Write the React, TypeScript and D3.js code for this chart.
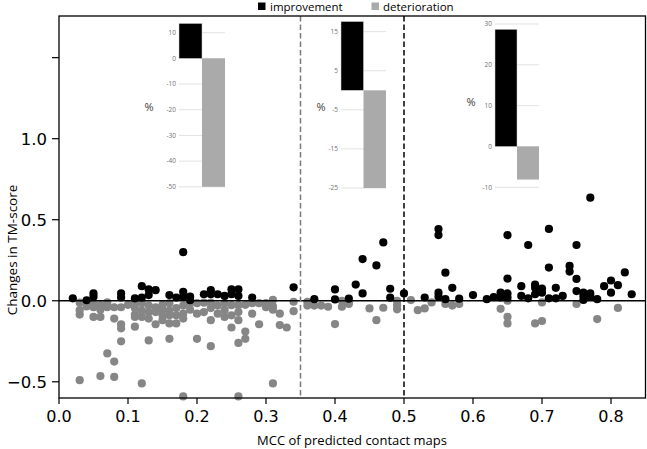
import React from "react";
import * as d3 from "d3";

// ---------- data ----------
const improvement: [number, number][] = [
  [0.02, 0.015], [0.04, 0.003], [0.05, 0.045], [0.05, 0.025], [0.09, 0.045], [0.09, 0.02],
  [0.11, 0.015], [0.12, 0.09], [0.12, 0.02], [0.13, 0.07], [0.13, 0.035], [0.14, 0.065],
  [0.16, 0.035], [0.17, 0.02], [0.18, 0.3], [0.18, 0.055], [0.18, 0.025], [0.19, 0.025],
  [0.19, 0.003], [0.21, 0.04], [0.22, 0.065], [0.22, 0.04], [0.23, 0.04], [0.24, 0.03],
  [0.25, 0.07], [0.25, 0.04], [0.26, 0.07], [0.26, 0.03], [0.28, 0.02], [0.34, 0.083],
  [0.37, 0.01], [0.4, 0.07], [0.4, 0.008], [0.42, 0.013], [0.43, 0.1], [0.44, 0.257],
  [0.44, 0.045], [0.46, 0.218], [0.47, 0.36], [0.48, 0.074], [0.48, 0.019], [0.5, 0.045],
  [0.53, 0.02], [0.55, 0.442], [0.55, 0.405], [0.55, 0.05], [0.55, 0.025], [0.56, 0.173],
  [0.56, 0.01], [0.57, 0.08], [0.58, 0.013], [0.6, 0.035], [0.62, 0.01], [0.63, 0.023],
  [0.64, 0.05], [0.64, 0.02], [0.65, 0.405], [0.65, 0.137], [0.65, 0.045], [0.65, 0.02],
  [0.67, 0.09], [0.67, 0.03], [0.68, 0.344], [0.68, 0.015], [0.69, 0.1], [0.69, 0.08],
  [0.69, 0.04], [0.7, 0.075], [0.7, 0.05], [0.71, 0.443], [0.71, 0.205], [0.71, 0.015],
  [0.72, 0.08], [0.72, 0.015], [0.73, 0.03], [0.74, 0.215], [0.74, 0.18], [0.75, 0.344],
  [0.75, 0.135], [0.75, 0.06], [0.76, 0.05], [0.76, 0.03], [0.76, 0.005], [0.77, 0.636],
  [0.77, 0.045], [0.77, 0.025], [0.78, 0.01], [0.79, 0.09], [0.8, 0.125], [0.8, 0.05],
  [0.81, 0.096], [0.82, 0.175], [0.83, 0.04],
];

const deterioration: [number, number][] = [
  [0.03, -0.012], [0.03, -0.058], [0.03, -0.085], [0.03, -0.49], [0.04, -0.035],
  [0.05, -0.015], [0.05, -0.04], [0.05, -0.1], [0.06, -0.027], [0.06, -0.055], [0.06, -0.1],
  [0.06, -0.465], [0.07, -0.01], [0.07, -0.04], [0.07, -0.325], [0.08, -0.04], [0.08, -0.11],
  [0.08, -0.375], [0.08, -0.47], [0.09, -0.04], [0.09, -0.145], [0.09, -0.17], [0.09, -0.25],
  [0.1, -0.025], [0.11, -0.015], [0.11, -0.045], [0.11, -0.085], [0.11, -0.1], [0.11, -0.16],
  [0.12, -0.015], [0.12, -0.06], [0.12, -0.1], [0.12, -0.51], [0.13, -0.03], [0.13, -0.07],
  [0.13, -0.11], [0.13, -0.245], [0.14, -0.04], [0.14, -0.07], [0.14, -0.145], [0.15, -0.025],
  [0.15, -0.055], [0.15, -0.09], [0.15, -0.12], [0.16, -0.015], [0.16, -0.06], [0.16, -0.09],
  [0.16, -0.14], [0.16, -0.235], [0.17, -0.045], [0.17, -0.09], [0.17, -0.14], [0.18, -0.03],
  [0.18, -0.08], [0.18, -0.11], [0.18, -0.59], [0.19, -0.015], [0.19, -0.055], [0.2, -0.015],
  [0.2, -0.08], [0.2, -0.235], [0.21, -0.012], [0.21, -0.07], [0.22, -0.012], [0.22, -0.045],
  [0.22, -0.12], [0.22, -0.28], [0.23, -0.03], [0.23, -0.08], [0.24, -0.015], [0.24, -0.058],
  [0.24, -0.1], [0.25, -0.027], [0.25, -0.09], [0.25, -0.165], [0.26, -0.027], [0.26, -0.07],
  [0.26, -0.12], [0.26, -0.26], [0.26, -0.59], [0.27, -0.025], [0.27, -0.19], [0.27, -0.235],
  [0.28, -0.015], [0.28, -0.08], [0.29, -0.015], [0.29, -0.145], [0.3, -0.015], [0.3, -0.04],
  [0.31, 0.005], [0.31, -0.035], [0.31, -0.055], [0.31, -0.51], [0.32, -0.08], [0.32, -0.15],
  [0.33, -0.165], [0.34, -0.006], [0.34, -0.064], [0.36, -0.006], [0.36, -0.03], [0.37, -0.03],
  [0.38, -0.03], [0.39, -0.037], [0.4, -0.144], [0.41, 0.0], [0.41, -0.037], [0.42, -0.02],
  [0.42, -0.01], [0.45, -0.047], [0.46, -0.12], [0.47, -0.043], [0.49, 0.0], [0.49, -0.027],
  [0.49, -0.053], [0.51, 0.004], [0.52, -0.058], [0.53, -0.047], [0.54, -0.01], [0.56, -0.02],
  [0.57, -0.03], [0.58, -0.02], [0.64, -0.05], [0.65, 0.0], [0.65, -0.099], [0.65, -0.14],
  [0.69, -0.14], [0.7, -0.01], [0.7, -0.125], [0.75, -0.02], [0.78, -0.113], [0.81, -0.044],
];

const xTicks = [0, 0.1, 0.2, 0.3, 0.4, 0.5, 0.6, 0.7, 0.8];
const yTicks = [-0.5, 0, 0.5, 1.0];
const yTickUnlabeled = [1.5];
const thresholds = [0.35, 0.5];

// inset bar charts: percent of improved / deteriorated targets in each MCC range
const insetImprovement = [13.6, 17.6, 28.7];
const insetDeterioration = [-50, -25, -8.1];
const insetTicks = [
  [10, 0, -10, -20, -30, -40, -50],
  [15, 5, -5, -15, -25],
  [30, 20, 10, 0, -10],
];
const insetDomains: [number, number][] = [[-50, 10], [-25, 15], [-10, 30]];

const legendLabels = ["improvement", "deterioration"];
const BLACK = "#000000";
const GRAY = "#868686";
const BAR_GRAY = "#aaaaaa";

// ---------- layout ----------
const W = 647, H = 449;
const L = 59, R = 645.5, T = 16, B = 398;
const insetLayout = [
  { x0: 179, x1: 225, y0: 186.8, y1: 32.7, pctX: 149, pctY: 107 },
  { x0: 341, x1: 386, y0: 188, y1: 31.7, pctX: 321, pctY: 107 },
  { x0: 495, x1: 539, y0: 187.3, y1: 24, pctX: 471, pctY: 102 },
];

export default function App() {
  const x = d3.scaleLinear().domain([0, 0.85]).range([L, R]);
  const y = d3.scaleLinear().domain([-0.6, 1.757]).range([B, T]);
  const tickFont = "DejaVu Sans, sans-serif";
  const textFont = "'Open Sans', sans-serif";

  return (
    <svg width={W} height={H} style={{ position: "absolute", left: 0, top: 0, background: "#fff" }}>
      <rect x={0} y={0} width={W} height={H} fill="#fff" />
      {/* legend */}
      <rect x={258} y={2.5} width={7.5} height={7.5} fill={BLACK} />
      <text x={270} y={10.5} fontFamily={textFont} fontSize={11.5} fill="#000">{legendLabels[0]}</text>
      <rect x={371.5} y={2.5} width={7.5} height={7.5} fill={BAR_GRAY} />
      <text x={383} y={10.5} fontFamily={textFont} fontSize={11.5} fill="#000">{legendLabels[1]}</text>

      {/* insets */}
      {insetLayout.map((g, i) => {
        const ys = d3.scaleLinear().domain(insetDomains[i]).range([g.y0, g.y1]);
        const bx = d3.scaleBand().domain(["imp", "det"]).range([g.x0, g.x1]);
        const bw = bx.bandwidth();
        const vi = insetImprovement[i], vd = insetDeterioration[i];
        return (
          <g key={i}>
            {insetTicks[i].map((t) => (
              <g key={t}>
                <line x1={g.x0} x2={g.x1} y1={ys(t)} y2={ys(t)} stroke="#e2e2e2" strokeWidth={1} />
                <text x={g.x0 - 3} y={ys(t)} dy="0.35em" textAnchor="end" fontFamily={textFont} fontSize={6.5} fill="#707070">{t}</text>
              </g>
            ))}
            <rect x={bx("imp")} y={ys(Math.max(vi, 0))} width={bw} height={Math.abs(ys(vi) - ys(0))} fill={BLACK} stroke="#d0d0d0" strokeWidth={0.5} />
            <rect x={bx("det")} y={ys(0)} width={bw} height={Math.abs(ys(vd) - ys(0))} fill={BAR_GRAY} />
            <text x={g.pctX} y={g.pctY} dy="0.35em" textAnchor="middle" fontFamily={textFont} fontSize={11} fill="#404040">%</text>
          </g>
        );
      })}

      {/* points */}
      {deterioration.map((d, i) => (
        <circle key={"d" + i} cx={x(d[0])} cy={y(d[1])} r={4.1} fill={GRAY} />
      ))}
      {improvement.map((d, i) => (
        <circle key={"i" + i} cx={x(d[0])} cy={y(d[1])} r={4.1} fill={BLACK} />
      ))}

      {/* zero line & thresholds */}
      <line x1={L} x2={R} y1={y(0)} y2={y(0)} stroke="#000" strokeWidth={1.5} />
      <line x1={x(thresholds[0])} x2={x(thresholds[0])} y1={T} y2={B} stroke="#7a7a7a" strokeWidth={1.5} strokeDasharray="5.5,3" />
      <line x1={x(thresholds[1])} x2={x(thresholds[1])} y1={T} y2={B} stroke="#000" strokeWidth={1.5} strokeDasharray="5.5,3" />

      {/* frame */}
      <rect x={L} y={T} width={R - L} height={B - T} fill="none" stroke="#000" strokeWidth={1.3} />

      {/* x axis */}
      {xTicks.map((t) => (
        <g key={t}>
          <line x1={x(t)} x2={x(t)} y1={B} y2={B + 6} stroke="#000" strokeWidth={1.2} />
          <text x={x(t)} y={B + 24} textAnchor="middle" fontFamily={tickFont} fontSize={16} fill="#000">{t.toFixed(1)}</text>
        </g>
      ))}
      {/* y axis */}
      {yTicks.map((t) => (
        <g key={t}>
          <line x1={L - 7} x2={L} y1={y(t)} y2={y(t)} stroke="#000" strokeWidth={1.2} />
          <text x={L - 12} y={y(t)} dy="0.36em" textAnchor="end" fontFamily={tickFont} fontSize={16.5} fill="#000">{t < 0 ? "\u2212" + Math.abs(t).toFixed(1) : t.toFixed(1)}</text>
        </g>
      ))}
      {yTickUnlabeled.map((t) => (
        <line key={t} x1={L - 7} x2={L} y1={y(t)} y2={y(t)} stroke="#000" strokeWidth={1.2} />
      ))}

      <text x={352} y={445} textAnchor="middle" fontFamily={textFont} fontSize={13} fill="#000">MCC of predicted contact maps</text>
      <text transform={`translate(17,250) rotate(-90)`} textAnchor="middle" fontFamily={textFont} fontSize={13.5} fill="#000">Changes in TM-score</text>
    </svg>
  );
}
